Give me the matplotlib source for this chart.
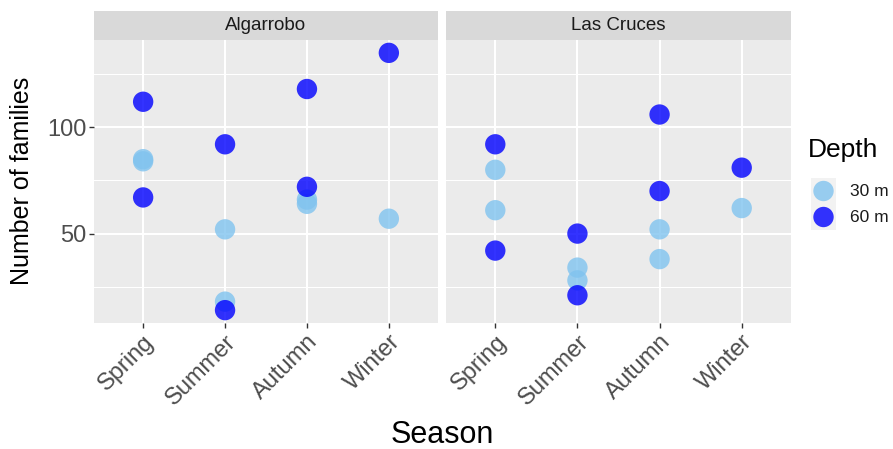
import matplotlib
matplotlib.use('Agg')
import matplotlib.pyplot as plt
import numpy as np

plt.rcParams['font.family'] = ['Liberation Sans', 'DejaVu Sans']

seasons = ['Spring', 'Summer', 'Autumn', 'Winter']
sites = ['Algarrobo', 'Las Cruces']
depths = ['30 m', '60 m']
depth_colors = {'30 m': '#80C3EF', '60 m': '#0000FF'}

# one row per sample
site = (['Algarrobo'] * 14) + (['Las Cruces'] * 14)
season = ['Spring', 'Spring', 'Summer', 'Summer', 'Autumn', 'Autumn', 'Winter',
          'Spring', 'Spring', 'Summer', 'Summer', 'Autumn', 'Autumn', 'Winter'] * 2
depth = (['30 m'] * 7 + ['60 m'] * 7) * 2
families = [84, 85, 52, 18, 64, 66, 57,
            112, 67, 92, 14, 118, 72, 135,
            80, 61, 34, 28, 52, 38, 62,
            92, 42, 50, 21, 106, 70, 81]

W, H = 893, 449
fig = plt.figure(figsize=(W / 100, H / 100), dpi=100)

def box(x0, y0, x1, y1):
    return [x0 / W, 1 - y1 / H, (x1 - x0) / W, (y1 - y0) / H]

panels = [(94, 438), (446, 791)]
ptop, pbot, stop = 40, 323, 11

fam = np.array(families)
lo, hi = fam.min(), fam.max()
pad = 0.05 * (hi - lo)

for (x0, x1), s in zip(panels, sites):
    ax = fig.add_axes(box(x0, ptop, x1, pbot))
    ax.set_facecolor('#EBEBEB')
    for sp in ax.spines.values():
        sp.set_visible(False)
    ax.set_xlim(0.4, 4.6)
    ax.set_ylim(lo - pad, hi + pad)
    ax.set_xticks(range(1, 5))
    ax.set_yticks([50, 100])
    ax.set_yticks([25, 75, 125], minor=True)
    ax.grid(which='major', color='white', lw=1.5)
    ax.grid(which='minor', axis='y', color='white', lw=0.75)
    ax.set_axisbelow(True)
    ax.tick_params(which='major', length=3.5, width=1, color='#333333',
                   labelsize=17, labelcolor='#4D4D4D', pad=2)
    ax.tick_params(which='minor', length=0)
    ax.set_xticklabels(seasons, rotation=45, ha='right', rotation_mode='anchor')
    if s != sites[0]:
        ax.set_yticklabels([])
        ax.tick_params(axis='y', length=0)
    for st, d, f in zip(site, season, zip(depth, families)):
        if st != s:
            continue
        ax.scatter(seasons.index(d) + 1, f[1], s=215, color=depth_colors[f[0]],
                   alpha=0.8, edgecolors='none', zorder=3)

    sax = fig.add_axes(box(x0, stop, x1, ptop))
    sax.set_facecolor('#D9D9D9')
    sax.set_xticks([])
    sax.set_yticks([])
    for sp in sax.spines.values():
        sp.set_visible(False)
    sax.text(0.5, 0.5, s, ha='center', va='center', fontsize=13.5,
             color='#1A1A1A', transform=sax.transAxes)

fig.text(442 / W, 1 - 435 / H, 'Season', ha='center', va='center', fontsize=22)
fig.text(22 / W, 1 - 181 / H, 'Number of families', ha='center', va='center',
         rotation=90, fontsize=18)

# legend
fig.text(808 / W, 1 - 150 / H, 'Depth', ha='left', va='center', fontsize=19)
lax = fig.add_axes(box(811, 178, 836, 230))
lax.set_facecolor('#F2F2F2')
lax.set_xlim(0, 1)
lax.set_ylim(0, 2)
lax.set_xticks([])
lax.set_yticks([])
for sp in lax.spines.values():
    sp.set_visible(False)
for i, d in enumerate(depths):
    lax.scatter(0.5, 1.5 - i, s=215, color=depth_colors[d], alpha=0.8,
                edgecolors='none', clip_on=False)
    fig.text(850 / W, 1 - (191 + 26 * i) / H, d, ha='left', va='center',
             fontsize=12.5, color='#1A1A1A')

fig.savefig('out.png', dpi=100)
